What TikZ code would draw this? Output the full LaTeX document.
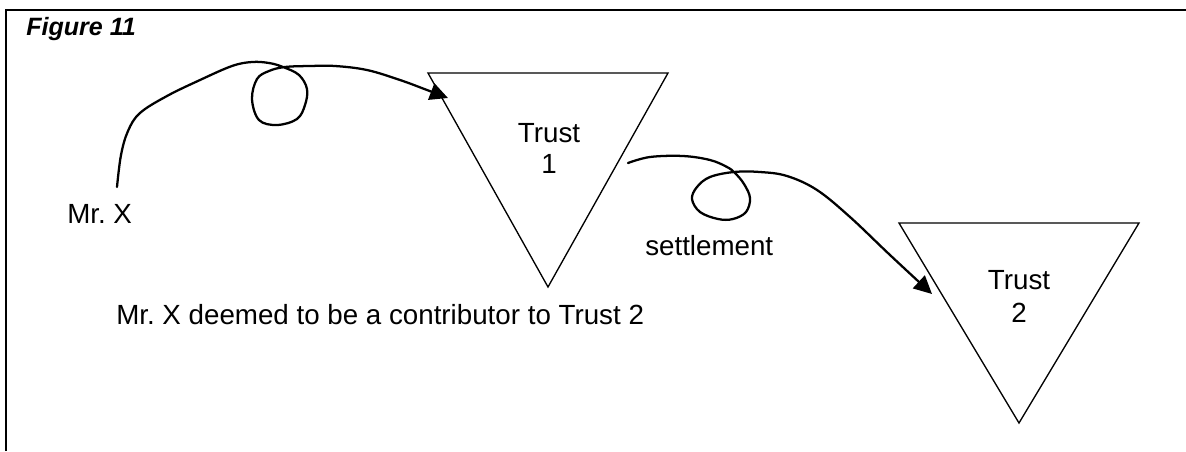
\documentclass[tikz,border=0pt]{standalone}
\usepackage{fontspec}
\setmainfont{Liberation Sans}
\usetikzlibrary{arrows.meta}
\frenchspacing
\begin{document}
\begin{tikzpicture}[x=0.75pt,y=-0.75pt,
  frame/.style={line width=1.5pt},
  tri/.style={line width=1pt, line join=miter},
  flow/.style={line width=1.7pt, line cap=round, line join=round, -{Triangle[length=13.5pt,width=13pt]}},
  bigtxt/.style={font=\fontsize{20.8pt}{25pt}\selectfont, inner sep=0pt},
  titletxt/.style={font=\fontsize{18.8pt}{22pt}\selectfont\bfseries\itshape, inner sep=0pt}]
\useasboundingbox (0,0) rectangle (1186,451);
% frame
\draw[frame] (6,451) -- (6,10) -- (1186,10);
% triangles
\coordinate (t1a) at (428,73);
\coordinate (t1b) at (668,73);
\coordinate (t1c) at (548,287);
\coordinate (t2a) at (899,223);
\coordinate (t2b) at (1139,223);
\coordinate (t2c) at (1019,423);
\draw[tri] (t1a) -- (t1b) -- (t1c) -- cycle;
\draw[tri] (t2a) -- (t2b) -- (t2c) -- cycle;
% texts
\node[titletxt, anchor=base west] (fig) at (26,35) {Figure 11};
\node[bigtxt, anchor=base west] (mrx) at (67,223) {Mr. X};
\node[bigtxt, anchor=base] (trust1) at (549,142) {Trust};
\node[bigtxt, anchor=base] (trust1n) at (549,173) {1};
\node[bigtxt, anchor=base] (trust2) at (1019,289) {Trust};
\node[bigtxt, anchor=base] (trust2n) at (1019,322) {2};
\node[bigtxt, anchor=base west] (settle) at (645,255) {settlement};
\node[bigtxt, anchor=base west] (deemed) at (116,324) {Mr. X deemed to be a contributor to Trust 2};
% connectors
\coordinate (c1s) at (117,187);
\coordinate (c1e) at (448,98);
\coordinate (c2s) at (628,163);
\coordinate (c2e) at (932,294);
\draw[flow] plot[smooth, tension=0.6] coordinates {(c1s) (121,155) (128,131) (140,113) (167,96) (200,80) (232,66) (252,62) (269,63) (283,67) (299,75) (307,89) (305,105) (297,119) (277,125) (259,120) (252,99) (257,79) (269,71) (285,67) (310,66) (335,66) (367,70) (400,80) (427,90) (c1e)};
\draw[flow] plot[smooth, tension=0.6] coordinates {(c2s) (650,157) (683,156) (710,160) (727,167) (735,173) (744,184) (750,198) (746,212) (733,219) (718,219) (700,212) (692,199) (697,187) (710,177) (734,172) (760,172) (787,176) (817,190) (850,217) (890,255) (c2e)};
\end{tikzpicture}
\end{document}
